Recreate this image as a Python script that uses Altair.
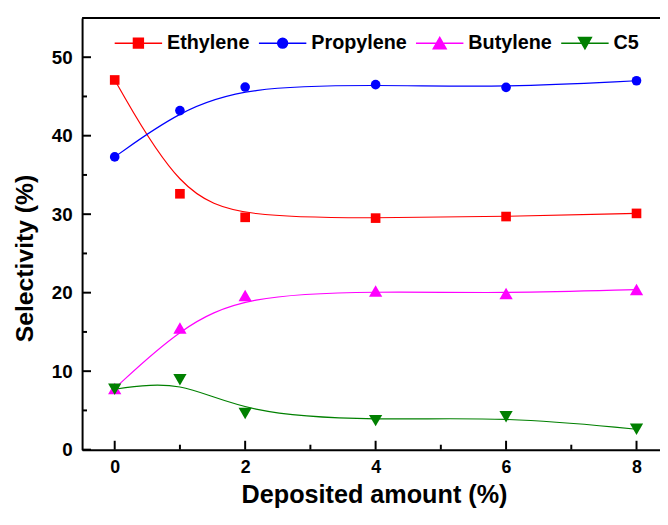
import altair as alt
import pandas as pd

# ---- data ----
x_vals = [0, 1, 2, 4, 6, 8]
series = ["Ethylene", "Propylene", "Butylene", "C5"]
ethylene = [47.1, 32.6, 29.6, 29.5, 29.7, 30.1]
propylene = [37.3, 43.2, 46.2, 46.5, 46.15, 47.0]
butylene = [7.8, 15.5, 19.65, 20.2, 19.9, 20.4]
c5 = [7.7, 8.9, 4.6, 3.7, 4.2, 2.6]

y_major = [0, 10, 20, 30, 40, 50]
y_minor = [5, 15, 25, 35, 45]
x_major = [0, 2, 4, 6, 8]
x_minor = [1, 3, 5, 7]

# ---- styles ----
colors = ["#ff0000", "#0000ff", "#ff00ff", "#008000"]
light = ["#ff8080", "#8080ff", "#ff80ff", "#66b366"]
shapes = ["square", "circle", "triangle-up", "triangle-down"]
sizes = [95, 95, 180, 180]
line_seg = "M-4.8,0H4.8"
legend_marks = [
    "M-1,-1H1V1H-1Z",
    "M-1,0A1,1,0,1,0,1,0A1,1,0,1,0,-1,0Z",
    "M0,-1.15L1.3,1.15H-1.3Z",
    "M0,1.15L1.3,-1.15H-1.3Z",
]
FONT = "Liberation Sans"

rows = []
for name, vals in zip(series, [ethylene, propylene, butylene, c5]):
    for xv, yv in zip(x_vals, vals):
        rows.append({"x": xv, "y": yv, "series": name})
df = pd.DataFrame(rows)

legend = alt.Legend(
    orient="none", legendX=47, legendY=15.5, direction="horizontal",
    title=None, padding=0, columnPadding=6, labelOffset=19, symbolOffset=0,
    labelFont=FONT, labelFontSize=20, labelFontWeight="bold", labelColor="black",
    symbolSize=100, symbolStrokeWidth=1.5, symbolOpacity=1, gridAlign="none",
)

W, H = 585, 437
xscale = alt.Scale(domain=[-0.5, 8.36], nice=False, zero=False)
yscale = alt.Scale(domain=[0, 55], nice=False, zero=False)
cscale = alt.Scale(domain=series, range=colors)

xaxis = alt.Axis(
    values=x_major, ticks=False, grid=False, domainColor="black", domainWidth=2,
    labelFont=FONT, labelFontSize=18, labelFontWeight="bold", labelColor="black",
    labelPadding=9, labelFlush=False,
    title="Deposited amount (%)", titleFont=FONT, titleFontSize=25.5,
    titleFontWeight="bold", titleColor="black", titleX=295.5, titleY=53.5,
    titleBaseline="alphabetic", titleAlign="center",
)
yaxis = alt.Axis(
    values=y_major, ticks=False, grid=False, domainColor="black", domainWidth=2,
    labelFont=FONT, labelFontSize=19, labelFontWeight="bold", labelColor="black",
    labelPadding=10, labelFlush=False,
    title="Selectivity (%)", titleFont=FONT, titleFontSize=25,
    titleFontWeight="bold", titleColor="black", titleX=-58, titleY=243,
    titleBaseline="middle", titleAlign="center", titleAngle=-90,
)

base = alt.Chart(df)
X = alt.X("x:Q", scale=xscale, axis=xaxis)
Y = alt.Y("y:Q", scale=yscale, axis=yaxis)
C = alt.Color("series:N", scale=cscale, legend=legend)

lines = base.mark_line(interpolate="basis", strokeWidth=1.2).encode(
    x=X, y=Y, color=C, detail="series:N",
)

point_layers = []
for s, shp, sz in zip(series, shapes, sizes):
    point_layers.append(
        base.transform_filter(alt.datum.series == s)
        .mark_point(filled=True, opacity=1, shape=shp, size=sz)
        .encode(x=X, y=Y, color=C)
    )

# invisible layer that only feeds the legend (line + marker symbols)
legend_layer = base.mark_point(filled=True, opacity=0).encode(
    x=X, y=Y, color=C,
    shape=alt.Shape("series:N", scale=alt.Scale(domain=series, range=[line_seg + m for m in legend_marks]), legend=legend),
    stroke=alt.Stroke("series:N", scale=alt.Scale(domain=series, range=light), legend=legend),
)


def yticks(vals, length):
    return alt.Chart(pd.DataFrame({"v": vals})).mark_rule(color="black", strokeWidth=2).encode(
        y=alt.Y("v:Q", scale=yscale, axis=yaxis), x=alt.value(0), x2=alt.value(length))


def xticks(vals, length):
    return alt.Chart(pd.DataFrame({"v": vals})).mark_rule(color="black", strokeWidth=2).encode(
        x=alt.X("v:Q", scale=xscale, axis=xaxis), y=alt.value(H), y2=alt.value(H - length))


top = alt.Chart(pd.DataFrame({"v": [55]})).mark_rule(color="black", strokeWidth=2).encode(
    y=alt.Y("v:Q", scale=yscale, axis=yaxis))

chart = alt.layer(
    lines, *point_layers, legend_layer,
    yticks(y_major, 9), yticks(y_minor, 5),
    xticks(x_major, 9), xticks(x_minor, 5),
    top,
).properties(
    width=W, height=H,
    autosize=alt.AutoSizeParams(type="none"),
    padding={"left": 75, "top": 7, "right": 0, "bottom": 58},
).configure_view(stroke=None)

chart.save("out.html", embed_options={"renderer": "svg", "actions": False})
